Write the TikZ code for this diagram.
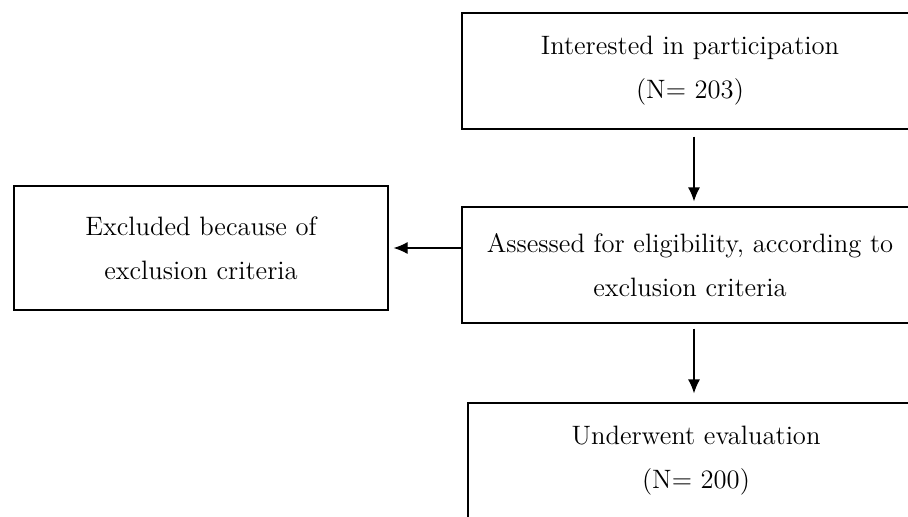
\documentclass[tikz,border=0pt]{standalone}
\usepackage{tikz}
\usetikzlibrary{arrows.meta}

\tikzset{
	stagebox/.style={draw, line width=0.6pt, align=center, minimum width=228pt, minimum height=58pt, font=\fontsize{13.3}{22}\selectfont},
	sidebox/.style={stagebox, minimum width=187pt, minimum height=62pt},
	flowarrow/.style={->,>={Latex[length=7pt,width=6pt]}, line width=0.6pt}
}

\begin{document}
\begin{tikzpicture}[x=0.5pt,y=-0.5pt]
	\useasboundingbox (0,0) rectangle (908,516);

	\node[stagebox] (interest) at (690,71) {Interested in participation \\ (N= 203)};
	\node[stagebox] (assess) at (690,265) {Assessed for eligibility, according to \\ exclusion criteria};
	\node[sidebox] (excluded) at (201,248) {Excluded because of \\ exclusion criteria};
	\node[stagebox] (evaluated) at (696,461) {Underwent evaluation \\ (N= 200)};

	\draw[flowarrow, shorten <=3.5pt, shorten >=2.5pt] ([xshift=2pt]interest.south) -- ([xshift=2pt]assess.north);
	\draw[flowarrow, shorten >=2.5pt] (excluded.east -| assess.west) -- (excluded.east);
	\draw[flowarrow, shorten <=2.5pt, shorten >=4.5pt] ([xshift=2pt]assess.south) -- ([xshift=2pt]assess.south |- evaluated.north);

\end{tikzpicture}
\end{document}
